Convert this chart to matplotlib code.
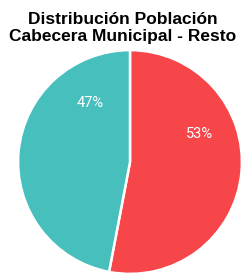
import numpy as np
import matplotlib.pyplot as plt

# data
categories = ['Resto', 'Cabecera Municipal']
values = [53, 47]
colors = ['#F7464A', '#46BFBD']

title = 'Distribución Población\nCabecera Municipal - Resto'

W, H = 246, 277
fig = plt.figure(figsize=(W / 100, H / 100), dpi=100)

cx, cy, r = 130, 162, 113
ax = fig.add_axes([(cx - r) / W, (H - cy - r) / H, 2 * r / W, 2 * r / H])

wedges, _ = ax.pie(values, colors=colors, startangle=90, counterclock=False,
                   wedgeprops=dict(edgecolor='white', linewidth=1.8))
ax.set_xlim(-1.01, 1.01)
ax.set_ylim(-1.01, 1.01)
ax.set_aspect('equal')
ax.axis('off')

# label positions (angle in degrees, radius fraction)
label_pos = [(22, 0.67), (124, 0.64)]
for v, (ang, rr) in zip(values, label_pos):
    a = np.deg2rad(ang)
    ax.text(rr * np.cos(a), rr * np.sin(a), f'{v}%', color='white',
            fontsize=10.5, family='Roboto', ha='center', va='center')

fig.text(0.5, 1 - 28 / H, title, ha='center', va='center', fontsize=12.5,
         fontweight='bold', family='Liberation Sans', linespacing=1.2)

fig.savefig('out.png', dpi=100)
